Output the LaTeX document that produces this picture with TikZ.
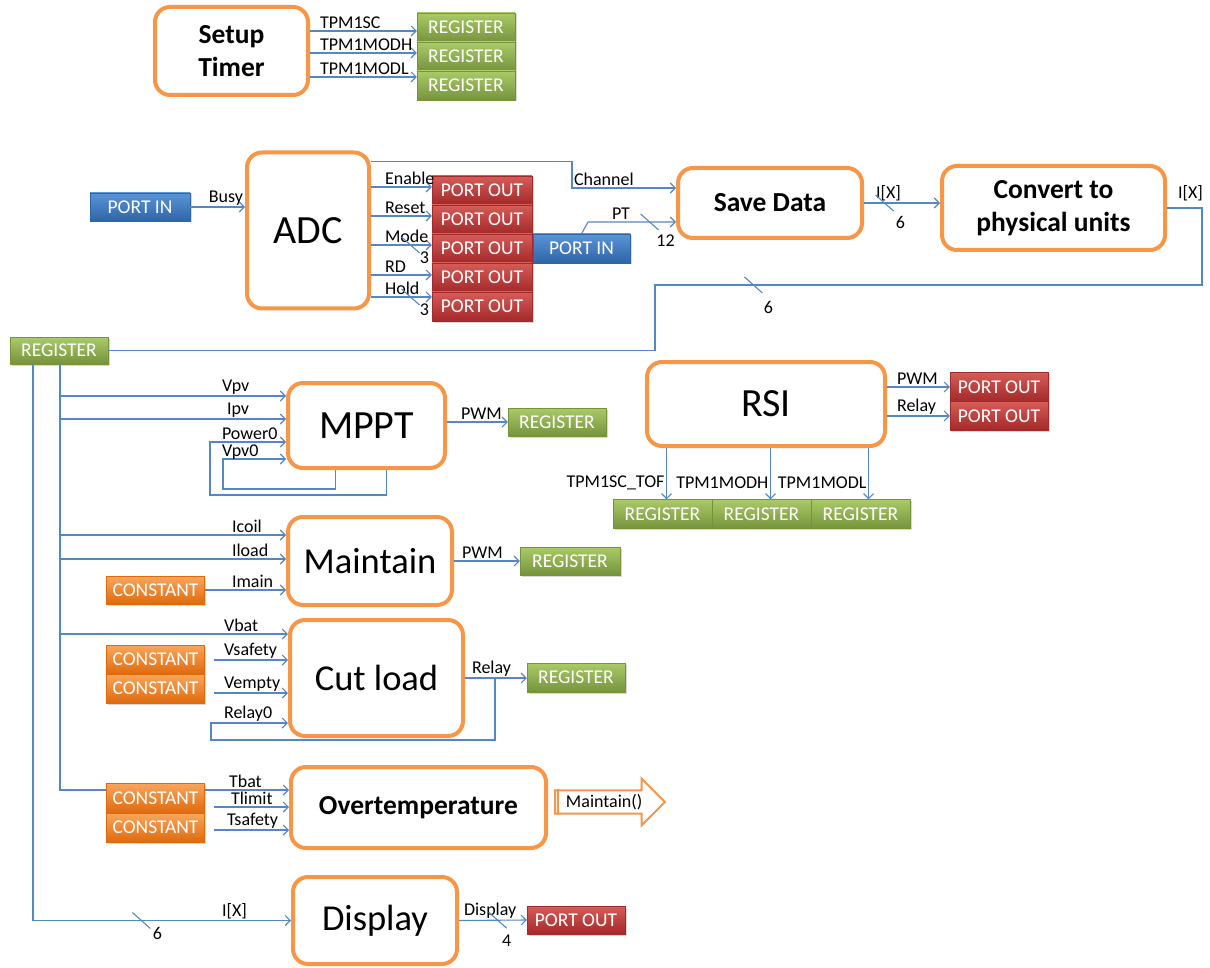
\documentclass[tikz,border=0pt]{standalone}
\usepackage{fontspec}
\setmainfont{Carlito}
\usetikzlibrary{arrows.meta,shadows,shapes.arrows}

\definecolor{boxorange}{HTML}{F79646}
\definecolor{wireblue}{HTML}{5587C4}
\definecolor{regtop}{HTML}{AACB68}
\definecolor{regbot}{HTML}{76933C}
\definecolor{outtop}{HTML}{D65C58}
\definecolor{outbot}{HTML}{A3292A}
\definecolor{intop}{HTML}{5B95D6}
\definecolor{inbot}{HTML}{2E64A8}
\definecolor{csttop}{HTML}{FAA65C}
\definecolor{cstbot}{HTML}{DF6A0C}

% slash across a bus line, with its width beside it
\newcommand{\busmark}[3][7,11]{%
  \draw[link] ([shift={(-9,-8)}]#2) -- ([shift={(9,8)}]#2)
    node[lbl, anchor=center, shift={(#1)}] {#3};}

\begin{document}
\begin{tikzpicture}[x=1pt, y=-1pt,
    blk/.style={draw=boxorange, line width=4pt, rounded corners=15pt, fill=white,
      align=center, inner sep=0pt},
    fbig/.style={font=\fontsize{40}{44}\selectfont},
    fmid/.style={font=\fontsize{36.5}{40}\selectfont},
    fbld/.style={font=\bfseries\fontsize{27.5}{33}\selectfont},
    chip/.style={minimum width=98pt, minimum height=28pt, inner sep=0pt, text=white,
      font=\fontsize{19.5}{19.5}\selectfont,
      drop shadow={opacity=0.3, shadow xshift=1.5pt, shadow yshift=-1.5pt}},
    reg/.style={chip, top color=regtop, bottom color=regbot, draw=regbot},
    portout/.style={chip, top color=outtop, bottom color=outbot, draw=outbot},
    portin/.style={chip, top color=intop, bottom color=inbot, draw=inbot},
    cst/.style={chip, top color=csttop, bottom color=cstbot, draw=cstbot},
    link/.style={draw=wireblue, line width=1.1pt},
    wire/.style={link, -{Straight Barb[length=5pt, width=10pt]}},
    lbl/.style={font=\fontsize{18}{18}\selectfont, inner sep=1.5pt},
    inl/.style={lbl, anchor=south west, xshift=-66pt}]

  \useasboundingbox[fill=white] (0,0) rectangle (1210,968);

  % timer setup
  \node[blk, fbld, minimum width=153pt, minimum height=88pt] (setup) at (231.5,51) {Setup\\Timer};
  \node[reg, minimum height=29pt] (tr1) at (466,27.5) {REGISTER};
  \node[reg, minimum height=29pt] (tr2) at (466,56.5) {REGISTER};
  \node[reg, minimum height=29pt] (tr3) at (466,85.5) {REGISTER};
  \draw[wire] ([yshift=-3.5pt]setup.east |- tr1.west) -- node[lbl, above right, pos=0, xshift=8pt] {TPM1SC} ([yshift=-3.5pt]tr1.west);
  \draw[wire] ([yshift=3.5pt]setup.east |- tr2.west) -- node[lbl, above right, pos=0, xshift=8pt] {TPM1MODH} ([yshift=3.5pt]tr2.west);
  \draw[wire] ([yshift=8.5pt]setup.east |- tr3.west) -- node[lbl, above right, pos=0, xshift=8pt] {TPM1MODL} ([yshift=8.5pt]tr3.west);

  % acquisition
  \node[blk, fbig, minimum width=122pt, minimum height=156pt] (adc) at (308,230.5) {ADC};
  \node[portin, minimum width=100pt] (in1) at (140,207) {PORT IN};
  \draw[wire] (in1.east) -- node[lbl, above left, pos=1] {Busy} (adc.west |- in1.east);
  \foreach \n/\y in {1/190.5,2/219.5,3/248.5,4/277.5,5/306.5}
    \node[portout, minimum width=100pt, minimum height=29pt] (o\n) at (482,\y) {PORT OUT};
  \foreach \n/\lab/\dy in {1/Enable/3.5pt,2/Reset/3.5pt,3/Mode/3.5pt,4/RD/2.5pt,5/Hold/9.5pt}
    \draw[wire] ([yshift=\dy]adc.east |- o\n.west) -- node[lbl, above right, pos=0, xshift=12pt] {\lab}
      coordinate[pos=0.65] (bm\n) ([yshift=\dy]o\n.west);
  \busmark[5,5]{bm3}{3}
  \busmark[5,5]{bm5}{3}

  \node[blk, fbld, minimum width=184pt, minimum height=70pt] (save) at (770,203) {Save Data};
  \draw[wire] ([yshift=-11pt]adc.north east) -| ([xshift=-104pt, yshift=15pt]save.west)
    -- node[lbl, above right, pos=0] {Channel} ([yshift=15pt]save.west);
  \node[portin, minimum width=97pt, minimum height=29pt] (in2) at (581.5,248.5) {PORT IN};
  \draw[wire] (in2.north) -- ([xshift=-88pt, yshift=-19pt]save.west)
    -- node[lbl, above, pos=0.375] {PT} coordinate[pos=0.7] (bm12) ([yshift=-19pt]save.west);
  \busmark{bm12}{12}

  \node[blk, fbld, minimum width=223pt, minimum height=84pt] (conv) at (1053.5,208) {Convert to\\physical units};
  \draw[wire] (save.east) -- node[lbl, above right, pos=0, xshift=10pt] {I[X]}
    coordinate[pos=0.27] (bm6) (save.east -| conv.west);
  \busmark{bm6}{6}

  \node[reg, minimum height=27pt] (regin) at (59,350.5) {REGISTER};
  \coordinate (drop) at (655,285);
  \draw[link] (conv.east) -- node[lbl, above, xshift=6pt, yshift=5pt] {I[X]} ++(35,0)
    |- coordinate[pos=0.91] (bm6b) (drop) |- (regin.east);
  \busmark[6,14]{bm6b}{6}

  \coordinate (busA) at ([xshift=-26pt]regin.south);
  \coordinate (busB) at ([xshift=1pt]regin.south);

  % MPPT
  \node[blk, fbig, minimum width=157pt, minimum height=85pt] (mppt) at (366.5,425.5) {MPPT};
  \coordinate (m1) at ([yshift=29.5pt]mppt.west);
  \coordinate (m2) at ([yshift=6.5pt]mppt.west);
  \coordinate (m3) at ([yshift=-16.5pt]mppt.west);
  \coordinate (m4) at ([yshift=-33.5pt]mppt.west);
  \draw[wire] (busB |- m1) -- (m1) node[inl] {Vpv};
  \draw[wire] (busB |- m2) -- (m2) node[inl, xshift=5pt] {Ipv};
  \draw[wire] ([xshift=20pt]mppt.south) -- ++(0,25) -| ([xshift=-76pt]m3) -- (m3) node[inl] {Power0};
  \draw[wire] ([xshift=-31pt]mppt.south) -- ++(0,19) -| ([xshift=-63pt]m4) -- (m4) node[inl, yshift=-2pt] {Vpv0};
  \node[reg] (regm) at (557,422) {REGISTER};
  \draw[wire] (mppt.east |- regm.west) -- node[lbl, above right, pos=0, xshift=12pt] {PWM} (regm.west);

  % RSI
  \node[blk, fbig, minimum width=238pt, minimum height=84pt] (rsi) at (766,404) {RSI};
  \node[portout, minimum height=29pt] (q1) at (999,387) {PORT OUT};
  \node[portout, minimum height=29pt] (q2) at (999,416) {PORT OUT};
  \draw[wire] (rsi.east |- q1.west) -- node[lbl, above right, pos=0, xshift=8pt] {PWM} (q1.west);
  \draw[wire] (rsi.east |- q2.west) -- node[lbl, above right, pos=0, xshift=8pt] {Relay} (q2.west);
  \node[reg, minimum width=99pt, minimum height=29pt] (s1) at (662.5,514) {REGISTER};
  \node[reg, minimum width=99pt, minimum height=29pt] (s2) at (761.5,514) {REGISTER};
  \node[reg, minimum width=99pt, minimum height=29pt] (s3) at (860.5,514) {REGISTER};
  \foreach \n/\dx/\lab in {1/4pt/TPM1SC\_TOF,2/9pt/TPM1MODH,3/8pt/TPM1MODL}
    \draw[wire] ([xshift=\dx]s\n.north |- rsi.south) -- node[lbl, left, pos=0.67] {\lab} ([xshift=\dx]s\n.north);

  % maintain
  \node[blk, fmid, minimum width=164pt, minimum height=88pt] (mnt) at (370,561) {Maintain};
  \node[cst] (c1) at (155.5,590) {CONSTANT};
  \coordinate (n1) at ([yshift=26pt]mnt.west);
  \coordinate (n2) at ([yshift=2pt]mnt.west);
  \draw[wire] (busB |- n1) -- (n1) node[inl, xshift=10pt] {Icoil};
  \draw[wire] (busB |- n2) -- (n2) node[inl, xshift=10pt] {Iload};
  \draw[wire] (c1.east) -- (mnt.west |- c1.east) node[inl, xshift=10pt] {Imain};
  \node[reg, minimum width=100pt] (regt) at (570,561) {REGISTER};
  \draw[wire] (mnt.east) -- node[lbl, above right, pos=0, xshift=6pt] {PWM} (regt.west);

  % cut load
  \node[blk, fmid, minimum width=173pt, minimum height=116pt] (cut) at (376.5,678) {Cut load};
  \node[cst, minimum height=29pt] (c2) at (155.5,659.5) {CONSTANT};
  \node[cst, minimum height=29pt] (c3) at (155.5,688.5) {CONSTANT};
  \coordinate (k1) at ([yshift=44pt]cut.west);
  \coordinate (k2) at ([yshift=18pt]cut.west);
  \coordinate (k3) at ([yshift=-15pt]cut.west);
  \coordinate (k4) at ([yshift=-45pt]cut.west);
  \draw[wire] (busB |- k1) -- (k1) node[inl] {Vbat};
  \draw[wire] ([xshift=9pt]c2.east |- k2) -- (k2) node[inl] {Vsafety};
  \draw[wire] ([xshift=9pt]c3.east |- k3) -- (k3) node[inl] {Vempty};
  \node[reg, minimum height=29pt] (regc) at (576,677.5) {REGISTER};
  \draw[wire] (cut.east) -- node[lbl, above right, pos=0, xshift=5pt] {Relay} (cut.east -| regc.west);
  \draw[wire] ([xshift=30pt]cut.east) -- ++(0,62) -| ([xshift=-77pt]k4) -- (k4) node[inl] {Relay0};

  % overtemperature
  \node[blk, fbld, minimum width=255pt, minimum height=81pt] (ovt) at (418.5,807.5) {Overtemperature};
  \coordinate (t1) at ([yshift=17.5pt]ovt.west);
  \coordinate (t2) at ([yshift=0.5pt]ovt.west);
  \coordinate (t3) at ([yshift=-22.5pt]ovt.west);
  \draw[wire] (busB) |- (t1) node[inl, xshift=4pt] {Tbat};
  \node[cst, minimum height=30pt] (c4) at (155.5,798) {CONSTANT};
  \node[cst, minimum height=29pt] (c5) at (155.5,827.5) {CONSTANT};
  \draw[wire] ([xshift=9pt]c4.east |- t2) -- (t2) node[inl, xshift=6pt] {Tlimit};
  \draw[wire] ([xshift=9pt]c5.east |- t3) -- (t3) node[inl, xshift=2pt] {Tsafety};
  \node[single arrow, draw=boxorange, line width=2pt, fill=white, minimum height=110pt,
    minimum width=47pt, single arrow head extend=11pt, inner sep=2pt,
    font=\fontsize{18}{18}\selectfont, anchor=tail] (call) at ([xshift=6pt, yshift=5.5pt]ovt.east) {Maintain()};
  \draw[boxorange, line width=2pt] ([xshift=4pt]call.before tail) -- ([xshift=4pt]call.after tail);

  % display
  \node[blk, fmid, minimum width=164pt, minimum height=87pt] (disp) at (375,920.5) {Display};
  \node[portout] (pod) at (576,920) {PORT OUT};
  \draw[wire] (busA) |- coordinate[pos=0.71] (bm6c) (disp.west) node[inl, xshift=-5pt] {I[X]};
  \busmark[7,5]{bm6c}{6}
  \draw[wire] (disp.east) -- node[lbl, above right, pos=0, xshift=3pt] {Display}
    coordinate[pos=0.57] (bm4) (pod.west);
  \busmark[0,12]{bm4}{4}
\end{tikzpicture}
\end{document}
